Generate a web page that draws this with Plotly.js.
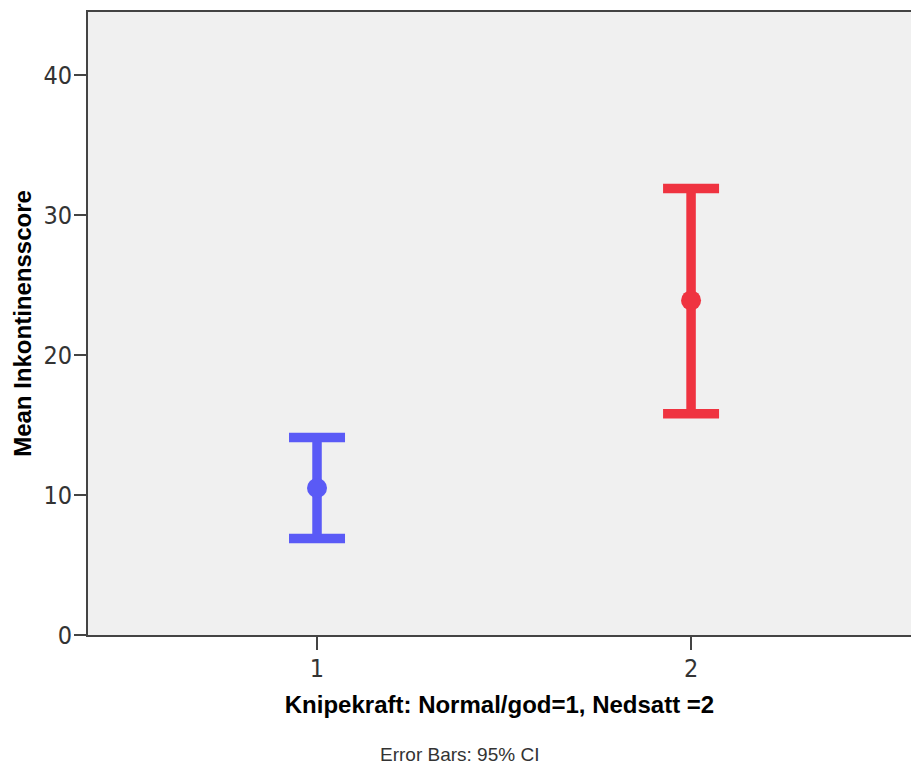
<!DOCTYPE html>
<html>
<head>
<meta charset="utf-8">
<script src="https://cdn.plot.ly/plotly-3.0.1.min.js"></script>
<style>html,body{margin:0;padding:0;background:#fff;}#chart{width:911px;height:764px;}</style>
</head>
<body>
<div id="chart"></div>
<script>
const groups = [1, 2];
const means = [10.5, 23.9];
const ciUpper = [14.1, 31.9];
const ciLower = [6.9, 15.8];
const colors = ['#5a5af6', '#ef3340'];
const yTicks = [0, 10, 20, 30, 40];

const narrow = 'Liberation Sans Narrow, Arial Narrow, DejaVu Sans Condensed, sans-serif';
const sans = 'Liberation Sans, Arial, sans-serif';

const traces = groups.map((g, i) => ({
  type: 'scatter',
  mode: 'markers',
  x: [g],
  y: [means[i]],
  marker: {color: colors[i], size: 20},
  error_y: {
    type: 'data',
    symmetric: false,
    array: [ciUpper[i] - means[i]],
    arrayminus: [means[i] - ciLower[i]],
    color: colors[i],
    thickness: 9.5,
    width: 28
  },
  showlegend: false,
  hoverinfo: 'skip'
}));

const layout = {
  width: 911, height: 764,
  margin: {l: 88, r: 0, t: 12, b: 129},
  paper_bgcolor: '#ffffff',
  plot_bgcolor: '#f0f0f0',
  font: {family: sans, color: '#333'},
  xaxis: {
    range: [0.3877, 2.588],
    tickvals: groups,
    ticktext: groups.map(String),
    ticks: 'outside', ticklen: 13, tickwidth: 2, tickcolor: '#444',
    showline: true, linecolor: '#444', linewidth: 2, mirror: true,
    showgrid: false, zeroline: false,
    tickfont: {size: 25, color: '#333', family: narrow},
    ticklabelstandoff: -3,
    title: {text: 'Knipekraft: Normal/god=1, Nedsatt =2', font: {size: 24, color: '#000', family: sans, weight: 'bold'}, standoff: 14}
  },
  yaxis: {
    range: [0, 44.5],
    tickvals: yTicks,
    ticktext: yTicks.map(String),
    ticks: 'outside', ticklen: 12, tickwidth: 2, tickcolor: '#444',
    showline: true, linecolor: '#444', linewidth: 2,
    showgrid: false, zeroline: false,
    tickfont: {size: 25, color: '#333', family: narrow},
    ticklabelstandoff: -3,
    title: {text: 'Mean Inkontinensscore', font: {size: 24, color: '#000', family: sans, weight: 'bold'}, standoff: 5}
  },
  annotations: [{
    text: 'Error Bars: 95% CI',
    xref: 'paper', yref: 'paper',
    x: (459 - 88) / 823, y: -(755 - 635) / 623,
    xanchor: 'center', yanchor: 'middle',
    showarrow: false,
    font: {size: 19, color: '#333', family: sans}
  }]
};

Plotly.newPlot('chart', traces, layout, {displayModeBar: false, staticPlot: true});
</script>
</body>
</html>
